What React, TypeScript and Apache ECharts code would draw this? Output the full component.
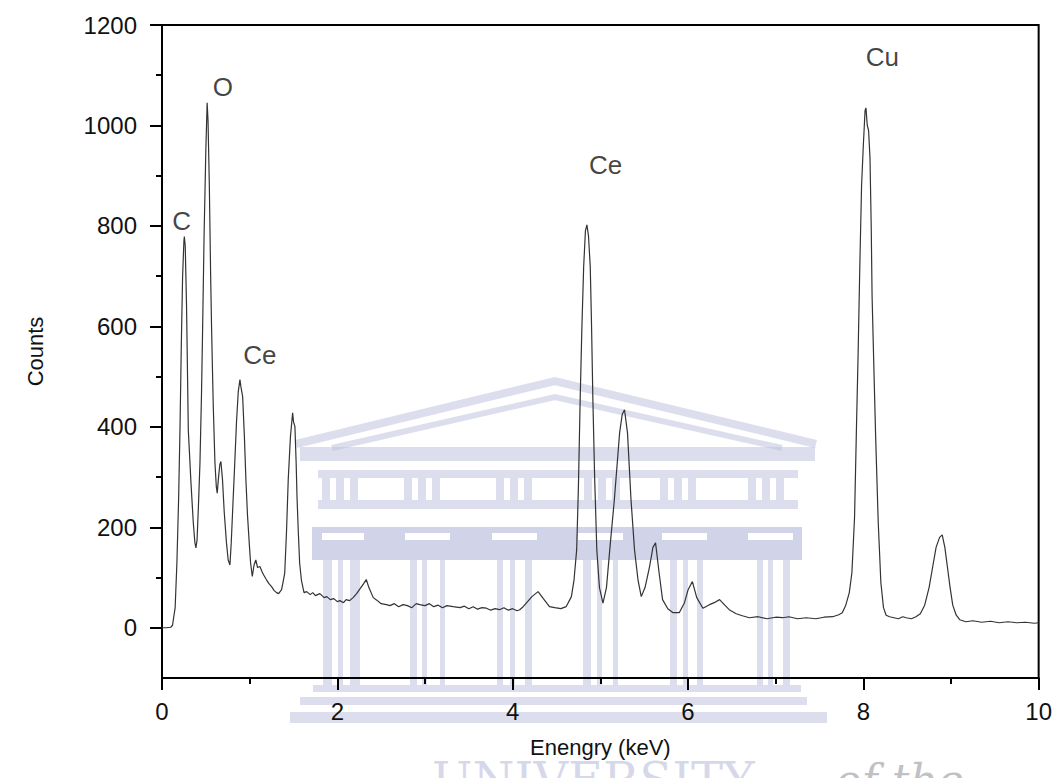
import React, { useEffect, useRef } from "react";
import * as echarts from "echarts";

// Spectrum: [energy keV, counts]
const lowEnergyPeaks: [number, number][] = [
  [0.0, 0], [0.05, 0], [0.1, 1], [0.12, 5], [0.15, 40], [0.17, 129], [0.19, 260], [0.205, 394],
  [0.22, 560], [0.235, 700], [0.25, 770], [0.255, 779], [0.265, 760], [0.28, 640], [0.3, 394],
  [0.33, 290], [0.357, 209], [0.375, 170], [0.387, 159], [0.4, 175], [0.415, 240], [0.433, 328],
  [0.45, 460], [0.463, 593], [0.48, 780], [0.5, 950], [0.515, 1045], [0.525, 1010], [0.54, 880],
  [0.555, 700], [0.566, 593], [0.585, 440], [0.604, 328], [0.62, 280], [0.63, 268], [0.645, 300],
  [0.66, 325], [0.672, 331], [0.69, 295], [0.71, 230], [0.735, 170], [0.755, 135], [0.775, 125],
  [0.79, 170], [0.81, 250], [0.83, 328], [0.85, 410], [0.87, 470], [0.889, 494], [0.9, 480],
  [0.92, 460], [0.94, 380], [0.957, 295], [0.975, 225], [0.995, 169], [1.01, 130], [1.03, 102],
  [1.05, 125], [1.07, 135], [1.09, 120], [1.117, 122], [1.14, 112], [1.16, 105], [1.19, 96],
  [1.22, 88], [1.25, 82], [1.28, 74], [1.307, 70], [1.33, 68], [1.364, 76], [1.38, 90], [1.4, 109],
  [1.42, 190], [1.44, 295], [1.465, 380], [1.49, 428], [1.5, 410], [1.516, 401], [1.53, 330],
  [1.54, 261], [1.555, 190], [1.57, 129], [1.59, 95], [1.62, 70], [1.65, 72], [1.69, 66],
];

const midBaseline: [number, number][] = [
  [1.72, 70], [1.75, 64], [1.8, 68], [1.85, 60], [1.88, 62], [1.92, 56], [1.96, 58], [2.0, 52],
  [2.03, 54], [2.07, 50], [2.1, 56], [2.14, 54], [2.18, 60], [2.22, 68], [2.26, 78], [2.3, 88],
  [2.33, 96], [2.36, 80], [2.41, 60], [2.45, 55], [2.5, 48], [2.56, 46], [2.6, 44], [2.65, 48],
  [2.7, 42], [2.75, 46], [2.8, 44], [2.85, 40], [2.9, 48], [2.94, 46], [3.0, 44], [3.05, 48],
  [3.1, 42], [3.15, 45], [3.2, 40], [3.25, 44], [3.32, 42], [3.4, 40], [3.45, 43], [3.5, 38],
  [3.55, 42], [3.6, 37], [3.65, 40], [3.7, 39], [3.75, 35], [3.8, 38], [3.85, 36], [3.9, 40],
  [3.95, 35], [4.0, 38], [4.05, 34], [4.08, 36], [4.12, 42], [4.16, 50], [4.22, 62], [4.29, 72],
  [4.35, 58], [4.42, 42], [4.48, 40], [4.55, 38], [4.61, 42], [4.67, 62],
];

const ceriumLPeaks: [number, number][] = [
  [4.7, 95], [4.73, 155], [4.75, 280], [4.77, 454], [4.79, 600], [4.81, 719], [4.83, 790],
  [4.847, 802], [4.865, 780], [4.885, 719], [4.9, 600], [4.915, 454], [4.935, 300], [4.96, 155],
  [4.99, 80], [5.03, 49], [5.07, 80], [5.11, 160], [5.16, 255], [5.22, 388], [5.25, 425],
  [5.276, 434], [5.31, 388], [5.35, 255], [5.39, 155], [5.43, 95], [5.467, 62], [5.51, 80],
  [5.56, 120], [5.6, 160], [5.63, 169], [5.67, 110], [5.71, 56], [5.77, 38], [5.83, 30],
  [5.9, 30], [5.96, 50], [6.0, 75], [6.05, 92], [6.1, 60], [6.17, 39], [6.245, 46], [6.3, 50],
  [6.36, 56], [6.42, 45], [6.47, 36], [6.55, 28], [6.62, 24], [6.7, 20], [6.8, 22], [6.9, 18],
  [7.0, 21], [7.08, 20], [7.15, 22], [7.25, 18], [7.35, 20], [7.46, 18], [7.55, 21], [7.65, 22],
  [7.72, 26], [7.76, 30], [7.8, 45],
];

const copperKPeaks: [number, number][] = [
  [7.84, 70], [7.87, 110], [7.9, 220], [7.92, 384], [7.94, 540], [7.96, 720], [7.98, 880],
  [8.0, 960], [8.02, 1030], [8.03, 1035], [8.045, 1000], [8.06, 990], [8.076, 936], [8.09, 800],
  [8.1, 660], [8.12, 520], [8.14, 384], [8.17, 210], [8.2, 90], [8.23, 40], [8.26, 25],
  [8.3, 22], [8.35, 20], [8.4, 18], [8.45, 22], [8.49, 20], [8.55, 18], [8.6, 22], [8.65, 28],
  [8.7, 45], [8.75, 80], [8.79, 120], [8.83, 160], [8.87, 180], [8.9, 185], [8.93, 160],
  [8.96, 120], [8.99, 80], [9.02, 45], [9.06, 25], [9.1, 16], [9.17, 12], [9.25, 14], [9.35, 11],
  [9.45, 13], [9.55, 10], [9.65, 12], [9.75, 10], [9.85, 11], [9.95, 9], [10.0, 10],
];

const yMajorTicks = [0, 200, 400, 600, 800, 1000, 1200];
const yMinorTicks = [100, 300, 500, 700, 900, 1100];

const peakNames = ["C", "O", "Ce", "Ce", "Cu"];
const peakLabelEnergy = [0.225, 0.695, 1.117, 5.06, 8.216];
const peakLabelCounts = [809, 1077, 543, 922, 1137];

const FONT = "'Liberation Sans', Arial, Helvetica, sans-serif";

// Decorative watermark (background building logo)
const WM = "rgba(186,190,220,0.5)";
const WM_DARK = "rgba(172,177,214,0.55)";
const windowBars = [322, 336, 350, 404, 418, 432, 496, 510, 524, 584, 598, 612, 660, 674, 688, 748, 762, 776];
const columnStripes: [number, number][] = [
  [323, 9], [338, 5], [350, 10], [410, 7], [422, 5], [440, 5], [497, 6], [510, 5], [525, 7],
  [583, 8], [597, 5], [613, 5], [670, 7], [683, 5], [697, 6], [757, 6], [768, 5], [783, 7],
];
const capitals: [number, number][] = [[322, 42], [405, 45], [492, 45], [578, 45], [662, 45], [748, 45]];

function watermark() {
  const els: any[] = [];
  const base = { z: -5, silent: true };
  els.push({ ...base, type: "polyline", shape: { points: [[296, 444], [555, 381], [816, 444]] }, style: { stroke: WM, lineWidth: 8, fill: null } });
  els.push({ ...base, type: "polyline", shape: { points: [[332, 448], [555, 397], [782, 448]] }, style: { stroke: WM, lineWidth: 6, fill: null } });
  els.push({ ...base, type: "rect", shape: { x: 300, y: 447, width: 515, height: 14 }, style: { fill: WM } });
  els.push({ ...base, type: "rect", shape: { x: 318, y: 470, width: 480, height: 8 }, style: { fill: WM } });
  windowBars.forEach((x) => els.push({ ...base, type: "rect", shape: { x, y: 478, width: 8, height: 22 }, style: { fill: WM } }));
  els.push({ ...base, type: "rect", shape: { x: 318, y: 500, width: 480, height: 9 }, style: { fill: WM } });
  els.push({ ...base, type: "rect", shape: { x: 312, y: 527, width: 490, height: 33 }, style: { fill: WM_DARK } });
  capitals.forEach(([x, w]) => els.push({ type: "rect", z: -4, silent: true, shape: { x, y: 533, width: w, height: 7 }, style: { fill: "#fff" } }));
  columnStripes.forEach(([x, w]) => els.push({ ...base, type: "rect", shape: { x, y: 560, width: w, height: 125 }, style: { fill: WM } }));
  els.push({ ...base, type: "rect", shape: { x: 313, y: 685, width: 488, height: 7 }, style: { fill: WM } });
  els.push({ ...base, type: "rect", shape: { x: 300, y: 697, width: 507, height: 8 }, style: { fill: WM } });
  els.push({ ...base, type: "rect", shape: { x: 290, y: 712, width: 537, height: 11 }, style: { fill: WM } });
  els.push({ ...base, type: "text", x: 432, y: 756, style: { text: "UNIVERSITY", fill: "rgba(186,190,220,0.6)", font: "48px 'DejaVu Serif', serif" } });
  els.push({ ...base, type: "text", x: 835, y: 758, style: { text: "of the", fill: "rgba(130,130,140,0.5)", font: "italic 44px 'DejaVu Serif', serif" } });
  return els;
}

export default function App() {
  const ref = useRef<HTMLDivElement>(null);

  useEffect(() => {
    if (!ref.current) return;
    const chart = echarts.init(ref.current, undefined, { renderer: "svg" });
    const spectrum = [...lowEnergyPeaks, ...midBaseline, ...ceriumLPeaks, ...copperKPeaks];
    const axisLineStyle = { color: "#000", width: 2 };
    const plain = (v: number) => String(v);
    const option: any = {
      animation: false,
      backgroundColor: "#fff",
      graphic: { elements: watermark() },
      grid: { left: 162, right: 16, top: 25, bottom: 100, show: true, borderColor: "#000", borderWidth: 2, backgroundColor: "transparent" },
      xAxis: {
        type: "value",
        min: 0,
        max: 10,
        interval: 2,
        axisLine: { show: true, onZero: false, lineStyle: axisLineStyle },
        axisTick: { show: true, inside: false, length: 12, lineStyle: axisLineStyle },
        minorTick: { show: true, splitNumber: 2, length: 6, lineStyle: axisLineStyle },
        axisLabel: { fontSize: 24, color: "#111", margin: 21, fontFamily: FONT, formatter: plain },
        splitLine: { show: false },
        minorSplitLine: { show: false },
        name: "Enengry (keV)",
        nameLocation: "middle",
        nameGap: 58,
        nameTextStyle: { fontSize: 22, color: "#111", fontFamily: FONT },
      },
      yAxis: [
        {
          type: "value",
          min: -100,
          max: 1200,
          position: "left",
          offset: 0,
          axisLine: { show: true, onZero: false, lineStyle: axisLineStyle },
          axisTick: { show: true, inside: false, length: 12, customValues: yMajorTicks, lineStyle: axisLineStyle },
          axisLabel: { customValues: yMajorTicks, fontSize: 24, color: "#111", margin: 25, fontFamily: FONT, formatter: plain },
          splitLine: { show: false },
          name: "Counts",
          nameLocation: "middle",
          nameGap: 116,
          nameTextStyle: { fontSize: 22, color: "#111", fontFamily: FONT },
        },
        {
          type: "value",
          min: -100,
          max: 1200,
          position: "left",
          offset: 0,
          axisLine: { show: false, onZero: false },
          axisTick: { show: true, inside: false, length: 6, customValues: yMinorTicks, lineStyle: axisLineStyle },
          axisLabel: { show: false },
          splitLine: { show: false },
        },
      ],
      series: [
        {
          type: "line",
          data: spectrum,
          yAxisIndex: 0,
          showSymbol: false,
          symbol: "none",
          silent: true,
          z: 3,
          lineStyle: { color: "#333", width: 1.2 },
        },
        {
          type: "scatter",
          yAxisIndex: 0,
          silent: true,
          z: 4,
          symbolSize: 1,
          itemStyle: { color: "transparent" },
          data: peakNames.map((n, i) => [peakLabelEnergy[i], peakLabelCounts[i], n]),
          label: {
            show: true,
            position: "inside",
            formatter: (p: any) => p.value[2],
            fontSize: 26,
            color: "#111",
            fontFamily: FONT,
          },
        },
      ],
    };
    chart.setOption(option);
    return () => chart.dispose();
  }, []);

  return <div ref={ref} style={{ position: "fixed", left: 0, top: 0, width: 1055, height: 778 }} />;
}
